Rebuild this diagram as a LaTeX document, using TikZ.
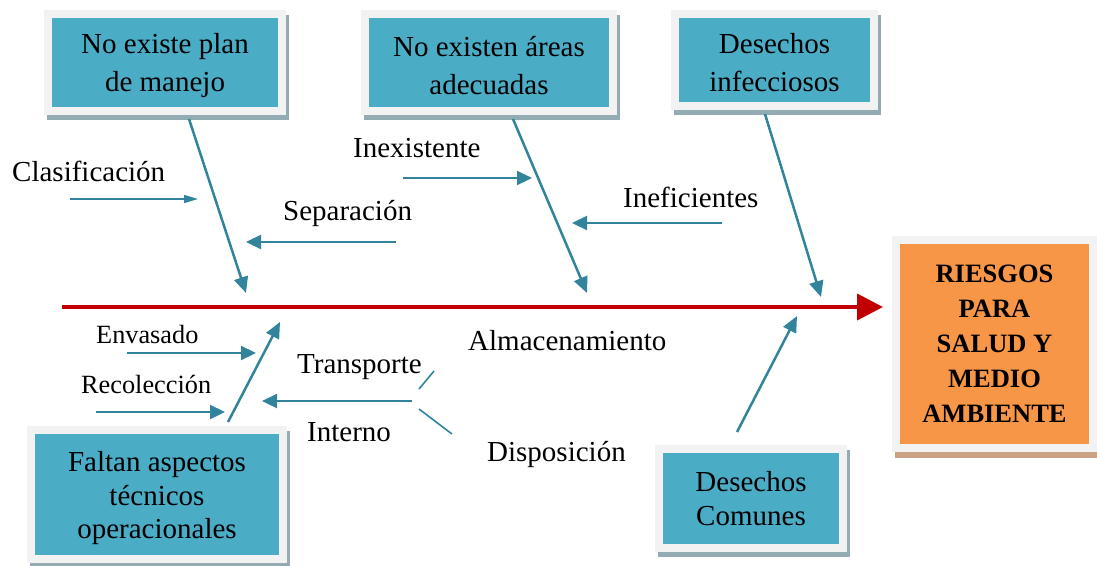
\documentclass[tikz,border=0pt]{standalone}
\usepackage{fontspec}
\setmainfont{Liberation Serif}
\usetikzlibrary{arrows.meta,calc}
\definecolor{boxteal}{HTML}{4BACC6}
\definecolor{arrteal}{HTML}{31849B}
\definecolor{framegrey}{HTML}{F2F2F2}
\definecolor{shadowgrey}{HTML}{93ABB3}
\definecolor{orangebox}{HTML}{F79646}
\definecolor{spinered}{HTML}{C00000}
\definecolor{tanshadow}{HTML}{CBA283}
\newcommand{\toplift}[1]{\rule{0pt}{#1}}
\begin{document}
\begin{tikzpicture}[x=1pt,y=-1pt,
  causebox/.style={draw=framegrey, line width=8pt, fill=boxteal, inner sep=0pt, align=center,
    font=\fontsize{29}{38}\selectfont,
    preaction={draw=shadowgrey, fill=shadowgrey, line width=8pt, transform canvas={shift={(3pt,-5pt)}}}},
  effectbox/.style={draw=framegrey, line width=8pt, fill=orangebox, inner sep=0pt, align=center,
    font=\bfseries\fontsize{26.5}{35}\selectfont,
    preaction={draw=tanshadow, fill=tanshadow, line width=8pt, transform canvas={shift={(3pt,-6pt)}}}},
  bone/.style={draw=arrteal, line width=2.5pt, -{Triangle[length=16pt,width=14pt]}},
  subarrow/.style={draw=arrteal, line width=2.3pt, -{Triangle[length=15pt,width=14pt]}},
  thinarrow/.style={draw=arrteal, line width=1.4pt, -{Triangle[length=14pt,width=8pt]}},
  tick/.style={draw=arrteal, line width=1.6pt},
  spine/.style={draw=spinered, line width=4pt, -{Triangle[length=26pt,width=26pt]}},
  lbl/.style={anchor=base west, inner sep=0pt, font=\fontsize{29}{34}\selectfont},
  smalllbl/.style={anchor=base west, inner sep=0pt, font=\fontsize{26.3}{30}\selectfont}
]
\useasboundingbox (0,0) rectangle (1097,565);

% cause boxes
\node[causebox, minimum width=234pt, minimum height=97pt] (b1) at (165,62.5) {\toplift{26pt}No existe plan\\de manejo};
\node[causebox, minimum width=248pt, minimum height=97pt] (b2) at (489,62.5) {\toplift{26pt}No existen áreas\\adecuadas};
\node[causebox, minimum width=199pt, minimum height=92pt] (b3) at (774.5,60) {\toplift{26pt}Desechos\\infecciosos};
\node[causebox, minimum width=252pt, minimum height=129pt, font=\fontsize{29}{33.5}\selectfont] (b4) at (157,494.5) {\toplift{28pt}Faltan aspectos\\técnicos\\operacionales};
\node[causebox, minimum width=184pt, minimum height=99pt, font=\fontsize{29}{34}\selectfont] (b5) at (751,498.5) {Desechos\\Comunes};
\node[effectbox, minimum width=197pt, minimum height=208pt] (eff) at (994.5,344) {RIESGOS\\PARA\\SALUD Y\\MEDIO\\AMBIENTE};

% spine
\coordinate (sL) at (62,307);
\coordinate (sR) at (883,307);
\draw[spine] (sL) -- (sR);

% main bones
\coordinate (t1) at (246,293);
\coordinate (t2) at (587,293);
\coordinate (t3) at (821,297);
\coordinate (t4) at (280,322);
\coordinate (t5) at (797,316);
\draw[bone] ([xshift=24pt,yshift=-4pt]b1.south) -- (t1);
\draw[bone] ([xshift=24pt,yshift=-4pt]b2.south) -- (t2);
\draw[bone] ([xshift=-9.5pt,yshift=-4pt]b3.south) -- (t3);
\draw[bone] ([xshift=71pt,yshift=4pt]b4.north) -- (t4);
\draw[bone] ([xshift=-14pt,yshift=13pt]b5.north) -- (t5);

% labels
\node[lbl] (lcla) at (12,181) {Clasificación};
\node[lbl] (lsep) at (283,220) {Separación};
\node[lbl] (line) at (353,157) {Inexistente};
\node[lbl] (lief) at (623,207) {Ineficientes};
\node[smalllbl] (lenv) at (96,343) {Envasado};
\node[smalllbl] (lrec) at (81,393) {Recolección};
\node[lbl] (ltra) at (297,373) {Transporte};
\node[lbl] (lint) at (307,441) {Interno};
\node[lbl] (lalm) at (468,350) {Almacenamiento};
\node[lbl] (ldis) at (487,461) {Disposición};

% sub arrows
\coordinate (c1a) at (70,199);  \coordinate (c1b) at (198,199);
\coordinate (c2a) at (396,242); \coordinate (c2b) at (246,242);
\coordinate (c3a) at (403,178); \coordinate (c3b) at (532,178);
\coordinate (c4a) at (722,223); \coordinate (c4b) at (572,223);
\coordinate (c5a) at (127,353); \coordinate (c5b) at (256,353);
\coordinate (c6a) at (96,412);  \coordinate (c6b) at (225,412);
\coordinate (c7a) at (412,401); \coordinate (c7b) at (262,401);
\draw[thinarrow] (c1a) -- (c1b);
\draw[subarrow] (c2a) -- (c2b);
\draw[subarrow] (c3a) -- (c3b);
\draw[subarrow] (c4a) -- (c4b);
\draw[subarrow] (c5a) -- (c5b);
\draw[subarrow] (c6a) -- (c6b);
\draw[subarrow] (c7a) -- (c7b);

% small ticks near Transporte / Disposicion
\coordinate (k1a) at (419,389); \coordinate (k1b) at (434,371);
\coordinate (k2a) at (419,409); \coordinate (k2b) at (452,434);
\draw[tick] (k1a) -- (k1b);
\draw[tick] (k2a) -- (k2b);
\end{tikzpicture}
\end{document}
